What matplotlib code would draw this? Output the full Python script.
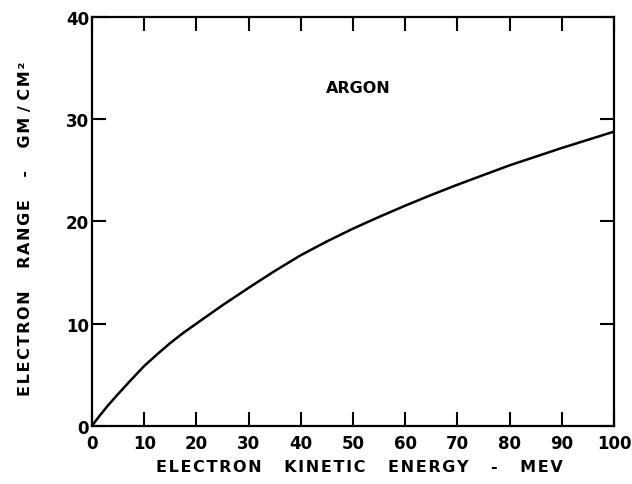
import matplotlib.pyplot as plt

# electron kinetic energy (MeV) vs range in argon (g/cm^2)
energy = [0, 1.5, 3, 5, 7.5, 10, 12.5, 15, 17.5, 20, 25, 30, 35, 40, 45, 50,
          55, 60, 65, 70, 75, 80, 85, 90, 95, 100]
range_gcm2 = [0, 1.0, 1.95, 3.1, 4.5, 5.85, 7.0, 8.1, 9.1, 10.0, 11.8, 13.5, 15.15,
              16.7, 18.05, 19.3, 20.45, 21.55, 22.6, 23.6, 24.55, 25.5, 26.35, 27.2,
              28.0, 28.8]

x_ticks = [0, 10, 20, 30, 40, 50, 60, 70, 80, 90, 100]
y_ticks = [0, 10, 20, 30, 40]


def spaced(s):
    # hair space between letters, like the hand lettering of the original
    return '\u200a'.join(s)


plt.rcParams['font.family'] = ['DejaVu Sans']

fig = plt.figure(figsize=(6.32, 4.85), dpi=100)
ax = fig.add_axes([0.1456, 0.1202, 0.8259, 0.8421])

ax.plot(energy, range_gcm2, color='black', linewidth=1.8)

ax.set_xlim(0, 100)
ax.set_ylim(0, 40)
ax.set_xticks(x_ticks)
ax.set_yticks(y_ticks)
ax.tick_params(direction='in', length=10, width=1.5, top=True, right=True,
               labelsize=12)
ax.tick_params(axis='x', pad=6)
ax.tick_params(axis='y', pad=2)
for lab in ax.get_xticklabels() + ax.get_yticklabels():
    lab.set_fontweight('bold')
for s in ax.spines.values():
    s.set_linewidth(1.6)

ax.text(51, 33.1, 'ARGON', ha='center', va='center', fontsize=11.5, fontweight='bold')

ax.set_xlabel(spaced('ELECTRON') + '    ' + spaced('KINETIC') + '    ' + spaced('ENERGY')
              + '    -    ' + spaced('MEV'), fontsize=11.5, fontweight='bold')
ax.set_ylabel(spaced('ELECTRON') + '    ' + spaced('RANGE') + '    -    '
              + spaced('GM') + ' / ' + spaced('CM²'), fontsize=11.5, fontweight='bold')
ax.xaxis.set_label_coords(0.513, -0.081)
ax.yaxis.set_label_coords(-0.113, 0.485)

plt.savefig('out.png')
